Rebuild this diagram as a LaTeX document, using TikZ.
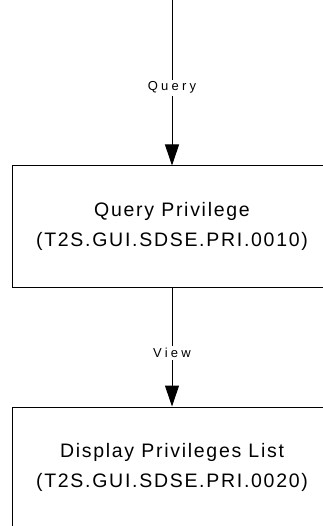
\documentclass[tikz,border=0pt]{standalone}
\usepackage{fontspec}
\setmainfont{Liberation Sans}
\usetikzlibrary{arrows.meta}

\tikzset{
  procbox/.style={draw, line width=1pt, minimum width=320pt, minimum height=121pt,
    align=center, font=\fontsize{19.5}{30}\selectfont\addfontfeature{LetterSpace=8.8}},
  flow/.style={line width=1pt, -{Triangle[width=14pt,length=21pt]}},
  flowlabel/.style={fill=white, inner sep=2pt,
    font=\fontsize{13}{15}\selectfont\addfontfeature{LetterSpace=25}}
}

\begin{document}
\begin{tikzpicture}[x=1pt,y=1pt]
  \useasboundingbox (0,0) rectangle (323,-526);
  \clip (0,0) rectangle (323,-526);
  \coordinate (start) at (172,0);
  \node[procbox] (query) at (172,-226.5) {Query Privilege\\(T2S.GUI.SDSE.PRI.0010)};
  \node[procbox] (list) at (172,-467.5) {Display Privileges List\\(T2S.GUI.SDSE.PRI.0020)};
  \draw[flow] (start) -- node[flowlabel, pos=0.53] (lquery) {Query} (query.north);
  \draw[flow] (query.south) -- node[flowlabel, pos=0.55] (lview) {View} (list.north);
\end{tikzpicture}
\end{document}
